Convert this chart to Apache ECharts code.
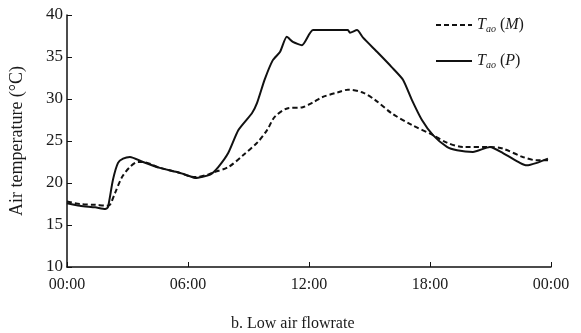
<!DOCTYPE html>
<html>
<head>
<meta charset="utf-8">
<script src="https://cdn.jsdelivr.net/npm/echarts@6/dist/echarts.min.js"></script>
<style>
  html, body { margin: 0; padding: 0; background: #fff; }
  #main { width: 581px; height: 333px; }
</style>
</head>
<body>
<div id="main"></div>
<script>
// 时间(小时)与温度
var pTimes = [0, 0.64, 1.4, 1.9, 2.03, 2.28, 2.53, 2.78, 3.12, 3.77, 4.6, 5.45, 6.1, 6.35, 7.1, 7.5, 8.0, 8.5, 9.17, 9.42, 9.8, 10.2, 10.56, 10.9, 11.2, 11.65, 12.2, 13.93, 14.03, 14.38, 14.68, 15.42, 16.1, 16.66, 17.1, 17.6, 18.15, 18.84, 19.34, 20.13, 20.97, 21.6, 22.46, 22.8, 23.3, 23.85];
var pTemps = [17.6, 17.3, 17.1, 16.9, 17.1, 20.4, 22.4, 22.9, 23.1, 22.5, 21.8, 21.3, 20.8, 20.6, 21.0, 21.9, 23.6, 26.3, 28.3, 29.5, 32.3, 34.6, 35.6, 37.4, 36.8, 36.4, 38.2, 38.2, 37.9, 38.2, 37.3, 35.5, 33.8, 32.3, 29.9, 27.5, 25.7, 24.3, 23.9, 23.7, 24.3, 23.6, 22.4, 22.1, 22.4, 22.9];
var mTimes = [0, 0.64, 1.4, 2.0, 2.13, 2.38, 2.73, 3.12, 3.52, 3.77, 4.6, 5.45, 6.1, 6.35, 7.0, 7.19, 8.0, 8.73, 9.47, 9.92, 10.31, 10.96, 11.65, 12.2, 12.64, 13.44, 13.93, 14.63, 15.27, 16.1, 17.1, 18.15, 18.84, 19.63, 20.97, 21.6, 22.6, 23.3, 23.85];
var mTemps = [17.8, 17.5, 17.4, 17.3, 17.4, 18.8, 20.7, 21.9, 22.5, 22.5, 21.8, 21.3, 20.8, 20.7, 21.0, 21.2, 21.9, 23.3, 24.9, 26.3, 27.9, 28.9, 29.0, 29.6, 30.2, 30.8, 31.1, 30.8, 29.9, 28.3, 26.9, 25.7, 24.8, 24.3, 24.3, 24.1, 23.1, 22.7, 22.7];
var xTicks = [0, 6, 12, 18, 24];
var xLabels = ["00:00", "06:00", "12:00", "18:00", "00:00"];

function pairs(ts, vs) {
  return ts.map(function (t, i) { return [t, vs[i]]; });
}

var serif = "Liberation Serif";
var ink = "#1a1a1a";
var myChart = echarts.init(document.getElementById("main"), null, { renderer: "canvas" });

var option = {
  animation: false,
  backgroundColor: "#fff",
  textStyle: { fontFamily: serif, color: ink },
  grid: { left: 67, right: 30, top: 15, bottom: 66 },
  title: {
    text: "b. Low air flowrate",
    left: 226, top: 311,
    textStyle: { fontFamily: serif, fontSize: 16, fontWeight: "normal", color: ink }
  },
  legend: {
    orient: "vertical",
    left: 430, top: 12,
    itemWidth: 36, itemHeight: 10, itemGap: 19,
    data: ["M", "P"],
    itemStyle: { color: "rgba(0,0,0,0)", borderWidth: 0 },
    formatter: function (n) { return "{t|T}{s|ao} ({t|" + n + "})"; },
    textStyle: {
      fontFamily: serif, fontSize: 16, color: ink,
      rich: {
        t: { fontFamily: serif, fontStyle: "italic", fontSize: 16, color: ink },
        s: { fontFamily: serif, fontStyle: "italic", fontSize: 10, color: ink, padding: [8, 0, 0, 0] }
      }
    }
  },
  xAxis: {
    type: "value", min: 0, max: 24, interval: 6,
    axisLine: { lineStyle: { color: "#111", width: 1.5 } },
    axisTick: { inside: true, length: 5, lineStyle: { color: "#111" } },
    splitLine: { show: false },
    axisLabel: {
      fontFamily: serif, fontSize: 16, color: ink, margin: 10,
      formatter: function (v) { return xLabels[xTicks.indexOf(v)]; }
    }
  },
  yAxis: {
    type: "value", min: 10, max: 40, interval: 5,
    name: "Air temperature (°C)", nameLocation: "middle", nameGap: 41,
    nameTextStyle: { fontFamily: serif, fontSize: 18, color: ink },
    axisLine: { show: true, lineStyle: { color: "#111", width: 1.5 } },
    axisTick: { show: true, inside: true, length: 5, lineStyle: { color: "#111" } },
    splitLine: { show: false },
    axisLabel: { fontFamily: serif, fontSize: 17, color: ink, margin: 4 }
  },
  series: [
    {
      name: "M", type: "line", symbol: "none", smooth: 0.3,
      lineStyle: { color: "#111", width: 2, type: [5, 3] },
      itemStyle: { color: "#111" },
      data: pairs(mTimes, mTemps)
    },
    {
      name: "P", type: "line", symbol: "none", smooth: 0.2,
      lineStyle: { color: "#111", width: 2 },
      itemStyle: { color: "#111" },
      data: pairs(pTimes, pTemps)
    }
  ]
};
myChart.setOption(option);
</script>
</body>
</html>
